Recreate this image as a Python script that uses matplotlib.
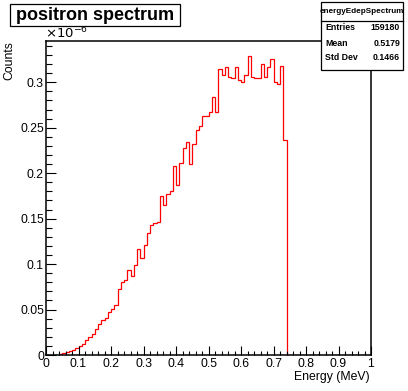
import matplotlib
matplotlib.use("Agg")
import matplotlib.pyplot as plt
from matplotlib.patches import Rectangle
from matplotlib.lines import Line2D
from matplotlib.ticker import MultipleLocator, FormatStrFormatter
import numpy as np

plt.rcParams['font.family'] = ['Liberation Sans', 'DejaVu Sans']

# ---- data (counts in units of 1e-6), 100 bins from 0 to 1 MeV ----
bin_low = 0.0
bin_high = 1.0
n_bins = 100
counts_e6 = [
    0, 0, 0, 0, 0.0008, 0.0018, 0.0030, 0.0045, 0.0060, 0.0078,
    0.0099, 0.0125, 0.0167, 0.0202, 0.0235, 0.0283, 0.0343, 0.0390, 0.0402, 0.0471,
    0.0511, 0.0554, 0.0728, 0.0800, 0.0820, 0.0930, 0.0864, 0.0995, 0.1165, 0.1070,
    0.1210, 0.1340, 0.1435, 0.1450, 0.1460, 0.1746, 0.1655, 0.1766, 0.1800, 0.2075,
    0.1865, 0.2110, 0.2280, 0.2340, 0.2100, 0.2320, 0.2480, 0.2520, 0.2630, 0.2630,
    0.2670, 0.2840, 0.2670, 0.3150, 0.3080, 0.3170, 0.3060, 0.3050, 0.3170, 0.3030,
    0.3000, 0.3080, 0.3290, 0.3060, 0.3050, 0.3050, 0.3200, 0.3060, 0.3170, 0.3260,
    0.3000, 0.2980, 0.3180, 0.2370, 0, 0, 0, 0, 0, 0,
    0, 0, 0, 0, 0, 0, 0, 0, 0, 0,
    0, 0, 0, 0, 0, 0, 0, 0, 0, 0,
]
title_text = "positron spectrum"
hist_name = "energyEdepSpectrum"
stat_names = ["Entries", "Mean", "Std Dev"]
stat_values = ["159180", "0.5179", "0.1466"]
x_label = "Energy (MeV)"
y_label = "Counts"

W, H = 408, 391
fig = plt.figure(figsize=(W / 100, H / 100), dpi=100)

def fx(px):
    return px / W

def fy(py):
    return 1 - py / H

L, R, T, B = 46, 371, 41, 355
ax = fig.add_axes([fx(L), fy(B), (R - L) / W, (B - T) / H])

edges = np.linspace(bin_low, bin_high, n_bins + 1)
ax.stairs(counts_e6, edges, color='#ff0000', lw=0.9, baseline=0, zorder=1)

ymax = max(counts_e6) * 1.05
ax.set_xlim(0, 1)
ax.set_ylim(0, ymax)

ax.xaxis.set_major_locator(MultipleLocator(0.1))
ax.xaxis.set_minor_locator(MultipleLocator(0.02))
ax.yaxis.set_major_locator(MultipleLocator(0.05))
ax.yaxis.set_minor_locator(MultipleLocator(0.01))
ax.xaxis.set_major_formatter(FormatStrFormatter('%g'))
ax.yaxis.set_major_formatter(FormatStrFormatter('%g'))

ax.tick_params(which='both', direction='in', top=False, right=False,
               colors='black', labelsize=8.8, width=0.8)
ax.tick_params(axis='x', which='major', length=6.5, pad=2.5)
ax.tick_params(axis='x', which='minor', length=3.2)
ax.tick_params(axis='y', which='major', length=7.5, pad=1.5)
ax.tick_params(axis='y', which='minor', length=4)
for s in ax.spines.values():
    s.set_linewidth(1.1)
    s.set_color('black')
    s.set_zorder(3)

# axis titles
fig.text(fx(370), fy(377), x_label, ha='right', va='center', fontsize=8.8)
fig.text(fx(9), fy(41), y_label, ha='center', va='top', rotation=90, fontsize=8.8)
fig.text(fx(45), fy(38), r"$\times10^{-6}$", ha='left', va='baseline', fontsize=9.5,
         math_fontfamily='dejavusans')

# title box
fig.add_artist(Rectangle((fx(10), fy(26)), fx(170), 22 / H, transform=fig.transFigure,
                         facecolor='white', edgecolor='black', lw=0.9, zorder=5))
fig.text(fx(95), fy(15.5), title_text, ha='center', va='center', fontsize=13,
         fontweight='bold', zorder=6)

# stats box
bx0, bx1, by0, by1 = 321, 403, 2, 70
fig.add_artist(Rectangle((fx(bx0), fy(by1)), (bx1 - bx0) / W, (by1 - by0) / H,
                         transform=fig.transFigure, facecolor='white',
                         edgecolor='black', lw=0.9, zorder=5))
fig.add_artist(Line2D([fx(bx0), fx(bx1)], [fy(21), fy(21)], transform=fig.transFigure,
                      color='black', lw=0.9, zorder=6))
fig.text(fx((bx0 + bx1) / 2), fy(11.5), hist_name, ha='center', va='center',
         fontsize=5.9, fontweight='bold', zorder=7)
row_y = [28, 43, 58]
for name, val, yy in zip(stat_names, stat_values, row_y):
    fig.text(fx(bx0 + 4), fy(yy), name, ha='left', va='center', fontsize=6.3,
             fontweight='bold', zorder=7)
    fig.text(fx(bx1 - 3), fy(yy), val, ha='right', va='center', fontsize=6.3,
             fontweight='bold', zorder=7)

fig.savefig("out.png", dpi=100)
